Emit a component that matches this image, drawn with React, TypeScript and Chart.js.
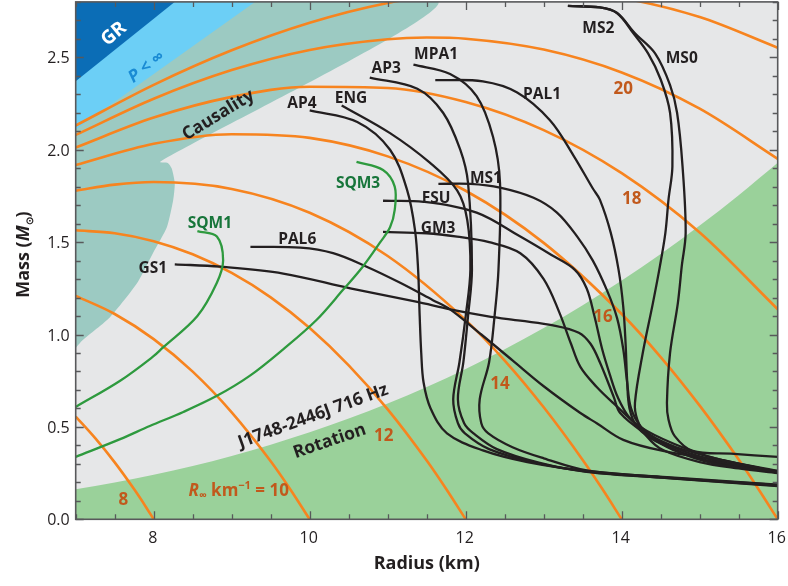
import React, { useEffect, useRef } from 'react';
import { Chart, registerables } from 'chart.js';

Chart.register(...registerables);

// ---------------- axes ----------------
const xRange = [7, 16];
const yRange = [0, 2.8];
const xTickLabels = [8, 10, 12, 14, 16];
const yTickLabels = [0, 0.5, 1.0, 1.5, 2.0, 2.5];
const xMinorStep = 0.5;
const yMinorStep = 0.1;

// ---------------- constraint regions (R km, M Msun) ----------------
const grBoundary = [[7, 2.37], [8.27, 2.8]];
const pressureBoundary = [[7, 2.11], [9.3, 2.8]];
const causalityRegion = [
  [7, 0.927], [7.09, 0.97], [7.44, 1.094], [7.79, 1.28], [7.99, 1.44], [8.17, 1.582],
  [8.25, 1.728], [8.27, 1.82], [8.23, 1.9], [8.18, 1.928], [8.08, 1.934], [11.65, 2.8], [7, 2.8],
];
const rotationBoundary = [
  [7, 0.162], [7.5, 0.199], [8, 0.241], [8.5, 0.289], [9, 0.343], [9.5, 0.404], [10, 0.471],
  [10.5, 0.545], [11, 0.627], [11.5, 0.716], [12, 0.814], [12.5, 0.92], [13, 1.035],
  [13.5, 1.159], [14, 1.292], [14.5, 1.436], [15, 1.59], [15.5, 1.754], [16, 1.929],
];

// ---------------- constant R_inf curves ----------------
const rInf8 = [[7, 0.556], [7.25, 0.439], [7.5, 0.308], [7.75, 0.162], [7.9, 0.067], [8, 0]];
const rInf10 = [[7, 1.209], [7.5, 1.111], [8, 0.975], [8.5, 0.799], [9, 0.579], [9.5, 0.314], [9.75, 0.163], [10, 0]];
const rInf12 = [[7, 1.564], [7.5, 1.548], [8, 1.505], [8.5, 1.434], [9, 1.333], [9.5, 1.201], [10, 1.035], [10.5, 0.833], [11, 0.595], [11.5, 0.318], [11.75, 0.164], [12, 0]];
const rInf14 = [[7, 1.778], [7.5, 1.811], [8, 1.825], [9, 1.788], [10, 1.659], [11, 1.425], [12, 1.078], [12.5, 0.859], [13, 0.606], [13.5, 0.321], [13.75, 0.165], [14, 0]];
const rInf16 = [[7, 1.917], [8, 2.032], [9, 2.084], [10, 2.064], [11, 1.964], [12, 1.778], [13, 1.496], [14, 1.111], [14.5, 0.878], [15, 0.615], [15.5, 0.323], [15.75, 0.165], [16, 0]];
const rInf18 = [[7, 2.012], [8, 2.174], [9, 2.286], [10, 2.341], [11, 2.334], [12, 2.258], [13, 2.106], [14, 1.873], [15, 1.552], [16, 1.137]];
const rInf20 = [[7, 2.08], [8, 2.276], [9, 2.431], [10, 2.54], [11, 2.598], [11.5, 2.607], [12, 2.601], [13, 2.542], [14, 2.418], [15, 2.222], [16, 1.951]];
const rInf22 = [[7, 2.131], [8, 2.351], [9, 2.538], [10, 2.687], [11, 2.794], [12, 2.855], [13, 2.865], [14, 2.821], [15, 2.718], [16, 2.552]];

// ---------------- EOS mass-radius curves ----------------
const GS1 = [[8.27, 1.38], [8.85, 1.367], [9.66, 1.33], [10.52, 1.25], [11.38, 1.176], [11.8, 1.136], [12.27, 1.1], [12.7, 1.075], [13.12, 1.05], [13.45, 1.01], [13.6, 0.95], [13.72, 0.85], [13.9, 0.66], [13.98, 0.575], [14.3, 0.465], [14.66, 0.375], [15.2, 0.3], [16, 0.255]];
const PAL6 = [[9.24, 1.474], [9.88, 1.47], [10.3, 1.44], [10.73, 1.367], [11.16, 1.28], [11.58, 1.186], [11.8, 1.136], [12.2, 1.0], [12.6, 0.86], [13.0, 0.72], [13.47, 0.575], [13.68, 0.52], [14.02, 0.43], [14.53, 0.37], [15.39, 0.31], [16, 0.255]];
const GM3 = [[10.94, 1.555], [11.5, 1.548], [11.89, 1.53], [12.3, 1.5], [12.7, 1.44], [13.0, 1.3], [13.2, 1.12], [13.35, 0.95], [13.47, 0.825], [13.68, 0.716], [13.89, 0.63], [14.24, 0.5], [14.66, 0.41], [15.2, 0.33], [16, 0.262]];
const FSU = [[10.94, 1.724], [11.46, 1.718], [12.14, 1.66], [12.7, 1.53], [13.1, 1.43], [13.4, 1.35], [13.55, 1.25], [13.65, 1.1], [13.75, 0.92], [13.85, 0.78], [13.95, 0.66], [14.1, 0.55], [14.35, 0.46], [14.7, 0.39], [15.3, 0.32], [16, 0.258]];
const MS1 = [[11.65, 1.815], [12.06, 1.815], [12.44, 1.795], [12.87, 1.74], [13.17, 1.66], [13.43, 1.53], [13.63, 1.4], [13.81, 1.24], [13.94, 1.09], [14.02, 0.92], [14.07, 0.74], [14.12, 0.6], [14.25, 0.5], [14.5, 0.42], [15.0, 0.34], [15.5, 0.29], [16, 0.26]];
const PAL1 = [[11.61, 2.377], [12.22, 2.37], [12.66, 2.31], [13.08, 2.16], [13.38, 1.97], [13.63, 1.79], [13.72, 1.73], [13.86, 1.55], [13.96, 1.35], [14.02, 1.15], [14.05, 0.95], [14.07, 0.75], [14.1, 0.6], [14.2, 0.5], [14.45, 0.42], [15.0, 0.33], [15.5, 0.285], [16, 0.252]];
const MS2 = [[13.31, 2.778], [13.72, 2.77], [13.94, 2.74], [14.15, 2.63], [14.34, 2.52], [14.5, 2.38], [14.62, 2.2], [14.65, 1.91], [14.6, 1.73], [14.56, 1.55], [14.49, 1.37], [14.4, 1.17], [14.27, 0.9], [14.17, 0.63], [14.2, 0.54], [14.32, 0.45], [14.53, 0.375], [15.0, 0.31], [15.5, 0.275], [16, 0.25]];
const MS0 = [[13.31, 2.778], [13.72, 2.77], [13.94, 2.74], [14.17, 2.63], [14.43, 2.52], [14.62, 2.35], [14.71, 2.2], [14.78, 1.91], [14.82, 1.55], [14.77, 1.37], [14.72, 1.17], [14.62, 0.9], [14.58, 0.63], [14.6, 0.54], [14.68, 0.45], [14.91, 0.37], [15.4, 0.355], [16, 0.338]];
const AP4 = [[10.0, 2.213], [10.61, 2.15], [11.03, 2.0], [11.25, 1.78], [11.35, 1.565], [11.39, 1.35], [11.41, 1.1], [11.43, 0.9], [11.46, 0.74], [11.55, 0.6], [11.76, 0.465], [12.22, 0.373], [12.79, 0.31], [13.55, 0.262], [14.58, 0.226], [16, 0.186]];
const ENG = [[10.41, 2.24], [11.03, 2.09], [11.54, 1.93], [11.89, 1.78], [12.02, 1.62], [12.06, 1.35], [12.0, 1.1], [11.92, 0.85], [11.84, 0.65], [11.9, 0.52], [11.99, 0.465], [12.3, 0.38], [12.9, 0.305], [13.55, 0.258], [14.58, 0.224], [16, 0.182]];
const AP3 = [[10.77, 2.39], [11.38, 2.33], [11.71, 2.2], [11.93, 2.0], [12.03, 1.82], [12.08, 1.35], [12.03, 1.1], [11.97, 0.85], [11.9, 0.65], [11.98, 0.52], [12.1, 0.465], [12.4, 0.38], [12.95, 0.305], [13.55, 0.257], [14.58, 0.223], [16, 0.18]];
const MPA1 = [[11.33, 2.46], [11.8, 2.41], [12.14, 2.29], [12.35, 2.07], [12.44, 1.82], [12.42, 1.35], [12.37, 1.1], [12.3, 0.85], [12.18, 0.65], [12.2, 0.52], [12.29, 0.465], [12.6, 0.39], [13.0, 0.33], [13.55, 0.265], [14.58, 0.228], [16, 0.188]];
const SQM1 = [[8.56, 1.56], [8.81, 1.53], [8.89, 1.4], [8.81, 1.28], [8.56, 1.1], [8.12, 0.93], [7.99, 0.88], [7.57, 0.75], [7.0, 0.608]];
const SQM3 = [[10.6, 1.934], [10.94, 1.89], [11.09, 1.8], [11.09, 1.674], [11.03, 1.58], [10.9, 1.497], [10.68, 1.367], [10.43, 1.243], [10.09, 1.08], [9.66, 0.92], [9.23, 0.776], [8.81, 0.668], [8.38, 0.581], [7.95, 0.505], [7.57, 0.434], [7.0, 0.338]];

const eosCurves = [GS1, PAL6, GM3, FSU, MS1, PAL1, MS2, MS0, AP4, ENG, AP3, MPA1];
const sqmCurves = [SQM1, SQM3];
const rInfCurves = [rInf8, rInf10, rInf12, rInf14, rInf16, rInf18, rInf20, rInf22];

// ---------------- styles ----------------
const C = {
  bg: '#e6e7e8',
  teal: '#9ccac2',
  lightBlue: '#6ccff6',
  darkBlue: '#0b6db6',
  green: '#9ad19a',
  orange: '#f7841f',
  orangeText: '#c1591c',
  black: '#231f20',
  sqm: '#2e9a3e',
  sqmText: '#17753a',
  pText: '#1a8bd4',
  frame: '#58595b',
};
const FONT = '"Open Sans", "Noto Sans", sans-serif';

// annotation labels (data coordinates)
const eosLabels = [
  { t: 'MS2', r: 13.70, m: 2.664 }, { t: 'MS0', r: 14.77, m: 2.501 },
  { t: 'MPA1', r: 11.62, m: 2.523 }, { t: 'PAL1', r: 12.98, m: 2.307 },
  { t: 'AP3', r: 10.98, m: 2.448 }, { t: 'AP4', r: 9.90, m: 2.258 },
  { t: 'ENG', r: 10.53, m: 2.285 }, { t: 'MS1', r: 12.26, m: 1.852 },
  { t: 'FSU', r: 11.62, m: 1.744 }, { t: 'GM3', r: 11.645, m: 1.582 },
  { t: 'PAL6', r: 9.84, m: 1.522 }, { t: 'GS1', r: 7.99, m: 1.365 },
];
const sqmLabels = [{ t: 'SQM1', r: 8.72, m: 1.609 }, { t: 'SQM3', r: 10.62, m: 1.825 }];
const rInfLabels = [
  { t: '20', r: 14.02, m: 2.334 }, { t: '18', r: 14.13, m: 1.739 },
  { t: '16', r: 13.76, m: 1.1 }, { t: '14', r: 12.44, m: 0.738 },
  { t: '12', r: 10.95, m: 0.457 }, { t: '8', r: 7.61, m: 0.11 },
];

const toPts = (a: number[][]) => a.map(([x, y]) => ({ x, y }));

type Seg = { t: string; font: string; dy?: number };
function rich(ctx: CanvasRenderingContext2D, x: number, y: number, rot: number, segs: Seg[], color: string, capHalf: number) {
  ctx.save();
  ctx.translate(x, y);
  ctx.rotate((rot * Math.PI) / 180);
  ctx.fillStyle = color;
  ctx.textBaseline = 'alphabetic';
  ctx.textAlign = 'left';
  let w = 0;
  for (const s of segs) { ctx.font = s.font; w += ctx.measureText(s.t).width; }
  let cx = -w / 2;
  for (const s of segs) {
    ctx.font = s.font;
    ctx.fillText(s.t, cx, capHalf + (s.dy || 0));
    cx += ctx.measureText(s.t).width;
  }
  ctx.restore();
}

const decor = {
  id: 'decor',
  beforeDatasetsDraw(chart: any) {
    const { ctx, chartArea: a } = chart;
    ctx.save();
    ctx.fillStyle = C.bg;
    ctx.fillRect(a.left, a.top, a.right - a.left, a.bottom - a.top);
    ctx.restore();
  },
  afterDatasetsDraw(chart: any) {
    const { ctx } = chart;
    const xs = chart.scales.x, ys = chart.scales.y;
    const X = (v: number) => xs.getPixelForValue(v);
    const Y = (v: number) => ys.getPixelForValue(v);
    const b16 = `700 15.5px ${FONT}`;
    for (const l of eosLabels) rich(ctx, X(l.r), Y(l.m), 0, [{ t: l.t, font: b16 }], C.black, 5.6);
    for (const l of sqmLabels) rich(ctx, X(l.r), Y(l.m), 0, [{ t: l.t, font: b16 }], C.sqmText, 5.6);
    const o17 = `700 17px ${FONT}`;
    for (const l of rInfLabels) rich(ctx, X(l.r), Y(l.m), 0, [{ t: l.t, font: o17 }], C.orangeText, 6);
    rich(ctx, X(9.09), Y(0.159), 0, [
      { t: 'R', font: `italic 700 17px ${FONT}` },
      { t: '\u221e', font: `700 11px ${FONT}`, dy: 3 },
      { t: ' km', font: o17 },
      { t: '\u22121', font: `700 11px ${FONT}`, dy: -7 },
      { t: ' = 10', font: o17 },
    ], C.orangeText, 6);
    rich(ctx, X(7.478), Y(2.632), -40, [{ t: 'GR', font: `700 19px ${FONT}` }], '#ffffff', 6.8);
    rich(ctx, X(7.90), Y(2.453), -37, [
      { t: 'P', font: `italic 700 17px ${FONT}` },
      { t: ' < \u221e', font: `700 17px ${FONT}` },
    ], C.pText, 6);
    rich(ctx, X(8.82), Y(2.193), -31.5, [{ t: 'Causality', font: `700 17.5px ${FONT}` }], C.black, 6.3);
    rich(ctx, X(10.04), Y(0.565), -20, [{ t: 'J1748-2446J 716 Hz', font: `700 17.5px ${FONT}` }], C.black, 6.3);
    rich(ctx, X(10.25), Y(0.429), -19, [{ t: 'Rotation', font: `700 17.5px ${FONT}` }], C.black, 6.3);
  },
  afterDraw(chart: any) {
    const { ctx, chartArea: a } = chart;
    const xs = chart.scales.x, ys = chart.scales.y;
    ctx.save();
    ctx.strokeStyle = C.frame;
    ctx.lineWidth = 1.3;
    // ticks
    ctx.beginPath();
    for (let v = xRange[0]; v <= xRange[1] + 1e-9; v += xMinorStep) {
      const px = Math.round(xs.getPixelForValue(v)) + 0.5;
      const major = xTickLabels.some((t) => Math.abs(t - v) < 1e-6);
      const len = major ? 8 : 5;
      ctx.moveTo(px, a.bottom); ctx.lineTo(px, a.bottom - len);
      ctx.moveTo(px, a.top); ctx.lineTo(px, a.top + len);
    }
    for (let v = yRange[0]; v <= yRange[1] + 1e-9; v += yMinorStep) {
      const py = Math.round(ys.getPixelForValue(v)) + 0.5;
      const major = yTickLabels.some((t) => Math.abs(t - v) < 1e-6);
      const len = major ? 8 : 5;
      ctx.moveTo(a.left, py); ctx.lineTo(a.left + len, py);
      ctx.moveTo(a.right, py); ctx.lineTo(a.right - len, py);
    }
    ctx.stroke();
    ctx.lineWidth = 1.6;
    ctx.strokeRect(a.left, a.top, a.right - a.left, a.bottom - a.top);
    // tick labels
    ctx.fillStyle = C.black;
    ctx.font = `16px ${FONT}`;
    ctx.textAlign = 'center';
    ctx.textBaseline = 'alphabetic';
    for (const t of xTickLabels) ctx.fillText(String(t), xs.getPixelForValue(t) - 1, a.bottom + 24);
    ctx.textAlign = 'right';
    for (const t of yTickLabels) ctx.fillText(t.toFixed(1), a.left - 6, ys.getPixelForValue(t) + 6);
    ctx.restore();
    // axis titles
    rich(ctx, (a.left + a.right) / 2, a.bottom + 43, 0, [{ t: 'Radius (km)', font: `700 18px ${FONT}` }], C.black, 6.4);
    rich(ctx, 23, (a.top + a.bottom) / 2 - 6, -90, [
      { t: 'Mass (', font: `700 18px ${FONT}` },
      { t: 'M', font: `italic 700 18px ${FONT}` },
      { t: '\u2299', font: `700 10px ${FONT}`, dy: 4 },
      { t: ')', font: `700 18px ${FONT}` },
    ], C.black, 6.4);
  },
};

export default function App() {
  const ref = useRef<HTMLCanvasElement>(null);
  useEffect(() => {
    const line = (d: number[][], color: string, width: number, order: number, extra: any = {}) => ({
      data: toPts(d), borderColor: color, borderWidth: width, pointRadius: 0, pointHoverRadius: 0,
      fill: false, order, tension: 0.35, ...extra,
    });
    const datasets: any[] = [
      line(causalityRegion, 'rgba(0,0,0,0)', 0, 100, { fill: 'shape', backgroundColor: C.teal, tension: 0.2 }),
      line(pressureBoundary, 'rgba(0,0,0,0)', 0, 99, { fill: 'end', backgroundColor: C.lightBlue, tension: 0 }),
      line(grBoundary, 'rgba(0,0,0,0)', 0, 98, { fill: 'end', backgroundColor: C.darkBlue, tension: 0 }),
      line(rotationBoundary, 'rgba(0,0,0,0)', 0, 97, { fill: 'start', backgroundColor: C.green, cubicInterpolationMode: 'monotone' }),
      ...rInfCurves.map((d) => line(d, C.orange, 2.6, 50, { cubicInterpolationMode: 'monotone' })),
      ...eosCurves.map((d) => line(d, C.black, 2.3, 20)),
      ...sqmCurves.map((d) => line(d, C.sqm, 2.3, 10)),
    ];
    const chart = new Chart(ref.current as HTMLCanvasElement, {
      type: 'line',
      data: { datasets },
      options: {
        animation: false,
        responsive: false,
        devicePixelRatio: 1,
        layout: { padding: { left: 75.7, right: 10.3, top: 1.9, bottom: 66.7 } },
        plugins: { legend: { display: false }, tooltip: { enabled: false } },
        events: [],
        scales: {
          x: { type: 'linear', min: xRange[0], max: xRange[1], display: false },
          y: { type: 'linear', min: yRange[0], max: yRange[1], display: false },
        },
      },
      plugins: [decor],
    } as any);
    return () => chart.destroy();
  }, []);
  return (
    <div style={{ position: 'absolute', left: 0, top: 0, width: 788, height: 586, background: '#ffffff' }}>
      <canvas ref={ref} width={788} height={586} style={{ display: 'block', width: 788, height: 586 }} />
    </div>
  );
}
